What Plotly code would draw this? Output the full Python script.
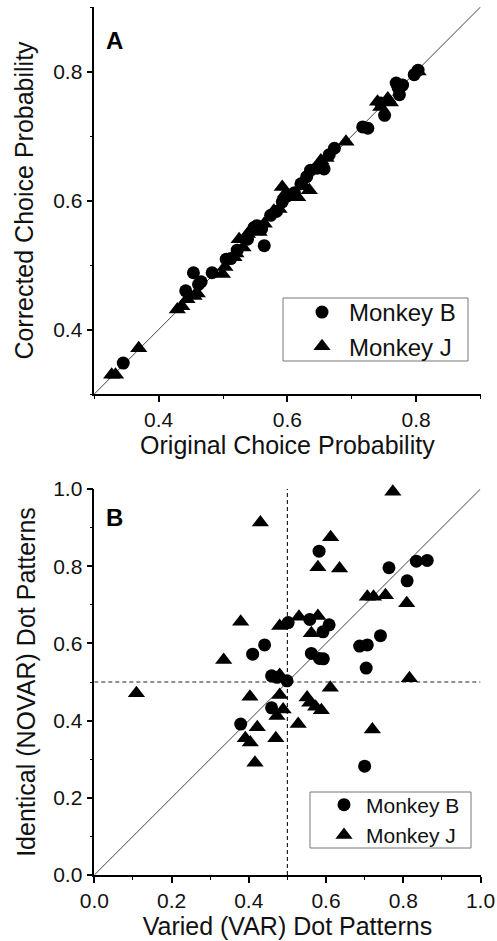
import plotly.graph_objects as go

# ---------------- Panel A: corrected vs original choice probability ----------------
a_monkey_b_x = [0.345, 0.442, 0.454, 0.462, 0.466, 0.483, 0.505, 0.512, 0.522, 0.538,
                0.548, 0.553, 0.564, 0.560, 0.574, 0.583, 0.592, 0.600, 0.611, 0.621,
                0.630, 0.636, 0.657, 0.646, 0.665, 0.673, 0.717, 0.725, 0.745, 0.751,
                0.769, 0.774, 0.779, 0.772, 0.797, 0.803]
a_monkey_b_y = [0.348, 0.460, 0.488, 0.470, 0.474, 0.488, 0.509, 0.510, 0.523, 0.540,
                0.558, 0.561, 0.530, 0.556, 0.577, 0.583, 0.598, 0.607, 0.612, 0.626,
                0.637, 0.647, 0.649, 0.650, 0.671, 0.681, 0.714, 0.712, 0.751, 0.732,
                0.782, 0.764, 0.779, 0.775, 0.795, 0.802]

a_monkey_j_x = [0.327, 0.333, 0.369, 0.429, 0.436, 0.444, 0.455, 0.460, 0.499, 0.503,
                0.517, 0.520, 0.525, 0.531, 0.538, 0.548, 0.556, 0.564, 0.579, 0.587,
                0.592, 0.597, 0.605, 0.616, 0.626, 0.634, 0.652, 0.660, 0.691, 0.740,
                0.745, 0.756, 0.760, 0.803]
a_monkey_j_y = [0.330, 0.330, 0.371, 0.431, 0.436, 0.447, 0.452, 0.456, 0.486, 0.497,
                0.512, 0.518, 0.540, 0.527, 0.548, 0.553, 0.551, 0.564, 0.584, 0.587,
                0.621, 0.611, 0.608, 0.605, 0.622, 0.616, 0.662, 0.666, 0.691, 0.753,
                0.745, 0.758, 0.752, 0.800]

# ---------------- Panel B: identical (NOVAR) vs varied (VAR) dot patterns ----------------
b_monkey_b_x = [0.582, 0.763, 0.834, 0.862, 0.810, 0.502, 0.558, 0.608, 0.592, 0.441,
                0.410, 0.562, 0.583, 0.593, 0.459, 0.473, 0.499, 0.687, 0.707, 0.741,
                0.704, 0.459, 0.379, 0.700]
b_monkey_b_y = [0.839, 0.796, 0.813, 0.815, 0.762, 0.654, 0.662, 0.648, 0.630, 0.596,
                0.572, 0.574, 0.561, 0.560, 0.516, 0.512, 0.503, 0.593, 0.596, 0.620,
                0.536, 0.433, 0.391, 0.282]

b_monkey_j_x = [0.773, 0.430, 0.612, 0.579, 0.635, 0.379, 0.335, 0.480, 0.530, 0.579,
                0.562, 0.707, 0.723, 0.754, 0.809, 0.816, 0.109, 0.480, 0.611, 0.403,
                0.480, 0.489, 0.473, 0.551, 0.558, 0.573, 0.588, 0.528, 0.422, 0.391,
                0.404, 0.470, 0.416, 0.720]
b_monkey_j_y = [0.993, 0.913, 0.875, 0.797, 0.794, 0.656, 0.557, 0.645, 0.669, 0.671,
                0.626, 0.721, 0.721, 0.725, 0.704, 0.510, 0.471, 0.518, 0.485, 0.462,
                0.466, 0.429, 0.412, 0.460, 0.446, 0.436, 0.427, 0.391, 0.383, 0.354,
                0.343, 0.354, 0.291, 0.377]

a_range = [0.3, 0.9]
b_range = [0.0, 1.0]
b_chance = 0.5

FONT = "Liberation Sans, Arial, Helvetica, sans-serif"
W, H = 497, 941

fig = go.Figure()

circle = dict(symbol="circle", size=13, color="black", line=dict(width=0))
triangle = dict(symbol="triangle-up", size=15, color="black", line=dict(width=0))

fig.add_trace(go.Scatter(x=a_monkey_b_x, y=a_monkey_b_y, mode="markers", name="Monkey B",
                         marker=circle, xaxis="x", yaxis="y", legend="legend",
                         cliponaxis=False))
fig.add_trace(go.Scatter(x=a_monkey_j_x, y=a_monkey_j_y, mode="markers", name="Monkey J",
                         marker=triangle, xaxis="x", yaxis="y", legend="legend",
                         cliponaxis=False))
fig.add_trace(go.Scatter(x=b_monkey_b_x, y=b_monkey_b_y, mode="markers", name="Monkey B",
                         marker=circle, xaxis="x2", yaxis="y2", legend="legend2",
                         cliponaxis=False))
fig.add_trace(go.Scatter(x=b_monkey_j_x, y=b_monkey_j_y, mode="markers", name="Monkey J",
                         marker=triangle, xaxis="x2", yaxis="y2", legend="legend2",
                         cliponaxis=False))

# unity lines
fig.add_shape(type="line", xref="x", yref="y", x0=a_range[0], y0=a_range[0],
              x1=a_range[1], y1=a_range[1], line=dict(color="#444", width=1), layer="below")
fig.add_shape(type="line", xref="x2", yref="y2", x0=b_range[0], y0=b_range[0],
              x1=b_range[1], y1=b_range[1], line=dict(color="#444", width=1), layer="below")
# chance-level reference lines
fig.add_shape(type="line", xref="x2", yref="y2", x0=b_chance, y0=b_range[0],
              x1=b_chance, y1=b_range[1], line=dict(color="#222", width=1.2, dash="4px,3px"),
              layer="below")
fig.add_shape(type="line", xref="x2", yref="y2", x0=b_range[0], y0=b_chance,
              x1=b_range[1], y1=b_chance, line=dict(color="#222", width=1.2, dash="4px,3px"),
              layer="below")

# legend frames
fig.add_shape(type="rect", xref="paper", yref="paper",
              x0=283 / W, x1=468 / W, y0=1 - 361 / H, y1=1 - 298 / H,
              line=dict(color="#777", width=1), fillcolor="white", layer="below")
fig.add_shape(type="rect", xref="paper", yref="paper",
              x0=310 / W, x1=471 / W, y0=1 - 848 / H, y1=1 - 792 / H,
              line=dict(color="#777", width=1), fillcolor="white", layer="below")

x_dom = [94.3 / W, 480.5 / W]
a_dom = [1 - 394 / H, 1 - 7 / H]
b_dom = [1 - 875 / H, 1 - 489 / H]


def axis(rng, tick0, dom, anchor, title, standoff):
    return dict(
        range=rng, domain=dom, anchor=anchor, showgrid=False, zeroline=False,
        showline=True, linecolor="black", linewidth=1.5, mirror=False,
        ticks="outside", ticklen=6, tickwidth=1.5, tickcolor="black",
        tick0=tick0, dtick=0.2, tickformat=".1f",
        tickfont=dict(family=FONT, size=21, color="#111"),
        minor=dict(ticks="outside", ticklen=3, tickwidth=1.2, tickcolor="black", dtick=0.1),
        title=dict(text=title, font=dict(family=FONT, size=25, color="#111"), standoff=standoff),
        automargin=False, fixedrange=True,
    )


fig.update_layout(
    width=W, height=H, margin=dict(l=0, r=0, t=0, b=0),
    paper_bgcolor="white", plot_bgcolor="white",
    xaxis=axis(a_range, 0.4, x_dom, "y", "Original Choice Probability", 6),
    yaxis=axis(a_range, 0.4, a_dom, "x", "Corrected Choice Probability", 12),
    xaxis2=axis(b_range, 0.0, x_dom, "y2", "Varied (VAR) Dot Patterns", 6),
    yaxis2=axis(b_range, 0.0, b_dom, "x2", "Identical (NOVAR) Dot Patterns", 10),
    legend=dict(x=295 / W, y=1 - 329.5 / H, xanchor="left", yanchor="middle",
                borderwidth=0, bgcolor="rgba(0,0,0,0)",
                font=dict(family=FONT, size=24, color="#111"), itemwidth=44),
    legend2=dict(x=322 / W, y=1 - 820 / H, xanchor="left", yanchor="middle",
                 borderwidth=0, bgcolor="rgba(0,0,0,0)",
                 font=dict(family=FONT, size=21, color="#111"), itemwidth=34),
    annotations=[
        dict(text="<b>A</b>", x=114 / W, y=1 - 41 / H, xref="paper", yref="paper",
             xanchor="center", yanchor="middle", showarrow=False,
             font=dict(family=FONT, size=24, color="black")),
        dict(text="<b>B</b>", x=114 / W, y=1 - 517 / H, xref="paper", yref="paper",
             xanchor="center", yanchor="middle", showarrow=False,
             font=dict(family=FONT, size=24, color="black")),
    ],
)

fig.write_html("out.html")
